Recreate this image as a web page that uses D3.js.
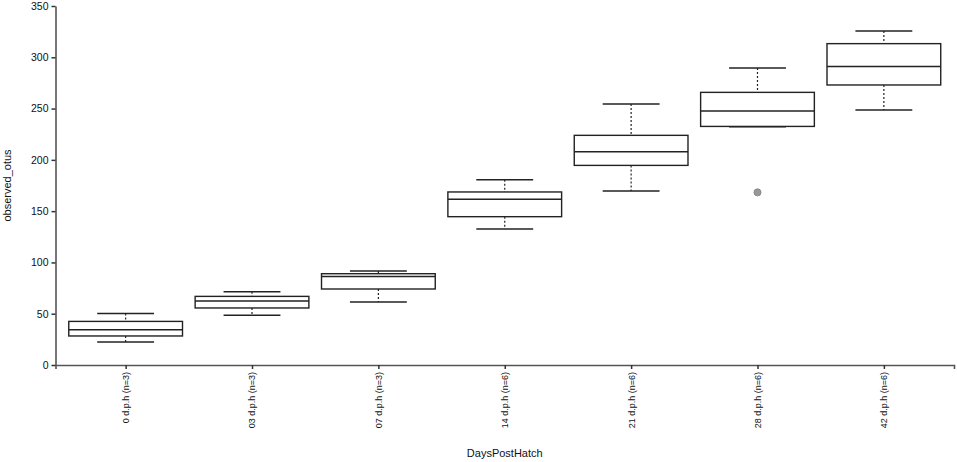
<!DOCTYPE html>
<html>
<head>
<meta charset="utf-8">
<script src="https://cdn.jsdelivr.net/npm/d3@7"></script>
<style>
  body { margin: 0; background: #fff; }
  text { font-family: "Liberation Sans", Arial, sans-serif; fill: #111; }
</style>
</head>
<body>
<div class="canvas"></div>
<script>
const categories = ["0 d.p.h (n=3)", "03 d.p.h (n=3)", "07 d.p.h (n=3)", "14 d.p.h (n=6)",
  "21 d.p.h (n=6)", "28 d.p.h (n=6)", "42 d.p.h (n=6)"];
const whiskerLow = [22.4, 48.4, 61.4, 132.6, 169.6, 232.3, 248.6];
const q1 = [28.3, 55.6, 74.1, 144.6, 194.6, 232.6, 273.0];
const median = [34.4, 62.4, 86.4, 161.5, 208.0, 247.6, 291.1];
const q3 = [42.5, 66.9, 89.0, 168.7, 223.9, 265.8, 313.3];
const whiskerHigh = [50.3, 71.5, 91.6, 180.7, 254.5, 289.6, 325.6];
const outliers = [[], [], [], [], [], [168.3], []];
const yTicks = [0, 50, 100, 150, 200, 250, 300, 350];

const width = 957, height = 462;
const margin = { left: 55.5, right: 3, top: 6, bottom: 97 };

const svg = d3.select(".canvas").append("svg")
  .attr("width", width)
  .attr("height", height);

let x = d3.scalePoint()
  .domain(categories)
  .range([margin.left, width - margin.right])
  .padding(0.555);

let y = d3.scaleLinear()
  .domain([0, 350])
  .range([height - margin.bottom, margin.top]);

const step = x.step();
const boxW = step * 0.9;
const capW = boxW / 2;

let boxes = categories.map((c, i) => ({
  cat: c, lo: whiskerLow[i], q1: q1[i], med: median[i], q3: q3[i], hi: whiskerHigh[i], out: outliers[i]
}));

// axes
let xAxis = svg.append("g")
  .attr("transform", `translate(0,${y(0)})`)
  .call(d3.axisBottom(x).tickSize(4).tickSizeOuter(4));
xAxis.selectAll("text")
  .attr("transform", "rotate(-90)")
  .attr("text-anchor", "end")
  .attr("x", -7)
  .attr("y", 0)
  .attr("dy", "0.32em")
  .style("font-size", "9px");

let yAxis = svg.append("g")
  .attr("transform", `translate(${margin.left},0)`)
  .call(d3.axisLeft(y).tickValues(yTicks).tickSize(4).tickSizeOuter(0).tickPadding(3));
yAxis.selectAll("text").style("font-size", "10.5px");

svg.selectAll(".domain").attr("stroke", "#555").attr("stroke-width", 1.6);
svg.selectAll(".tick line").attr("stroke", "#333").attr("stroke-width", 1.5);

// whiskers
let g = svg.selectAll(".box").data(boxes).enter().append("g").attr("class", "box");

g.append("line")
  .attr("x1", d => x(d.cat)).attr("x2", d => x(d.cat))
  .attr("y1", d => y(d.hi)).attr("y2", d => y(d.q3))
  .attr("stroke", "#222").attr("stroke-dasharray", "2,2").attr("stroke-width", 1.2);
g.append("line")
  .attr("x1", d => x(d.cat)).attr("x2", d => x(d.cat))
  .attr("y1", d => y(d.q1)).attr("y2", d => y(d.lo))
  .attr("stroke", "#222").attr("stroke-dasharray", "2,2").attr("stroke-width", 1.2);

g.append("line")
  .attr("x1", d => x(d.cat) - capW / 2).attr("x2", d => x(d.cat) + capW / 2)
  .attr("y1", d => y(d.hi)).attr("y2", d => y(d.hi))
  .attr("stroke", "#222").attr("stroke-width", 1.5);
g.append("line")
  .attr("x1", d => x(d.cat) - capW / 2).attr("x2", d => x(d.cat) + capW / 2)
  .attr("y1", d => y(d.lo)).attr("y2", d => y(d.lo))
  .attr("stroke", "#222").attr("stroke-width", 1.5);

g.append("rect")
  .attr("x", d => x(d.cat) - boxW / 2)
  .attr("width", boxW)
  .attr("y", d => y(d.q3))
  .attr("height", d => y(d.q1) - y(d.q3))
  .attr("fill", "#fff")
  .attr("stroke", "#222")
  .attr("stroke-width", 1.4);

g.append("line")
  .attr("x1", d => x(d.cat) - boxW / 2).attr("x2", d => x(d.cat) + boxW / 2)
  .attr("y1", d => y(d.med)).attr("y2", d => y(d.med))
  .attr("stroke", "#222").attr("stroke-width", 1.5);

g.selectAll(".outlier")
  .data(d => d.out.map(v => ({ cat: d.cat, v: v })))
  .enter().append("circle")
  .attr("class", "outlier")
  .attr("cx", d => x(d.cat))
  .attr("cy", d => y(d.v))
  .attr("r", 3.5)
  .attr("fill", "#999")
  .attr("stroke", "#888");

// axis titles
svg.append("text")
  .attr("transform", `translate(${(margin.left + width - margin.right) / 2},457)`)
  .attr("text-anchor", "middle")
  .style("font-size", "11px")
  .text("DaysPostHatch");

svg.append("text")
  .attr("transform", `translate(11,${(y(0) + y(350)) / 2}) rotate(-90)`)
  .attr("text-anchor", "middle")
  .style("font-size", "11px")
  .text("observed_otus");
</script>
</body>
</html>
